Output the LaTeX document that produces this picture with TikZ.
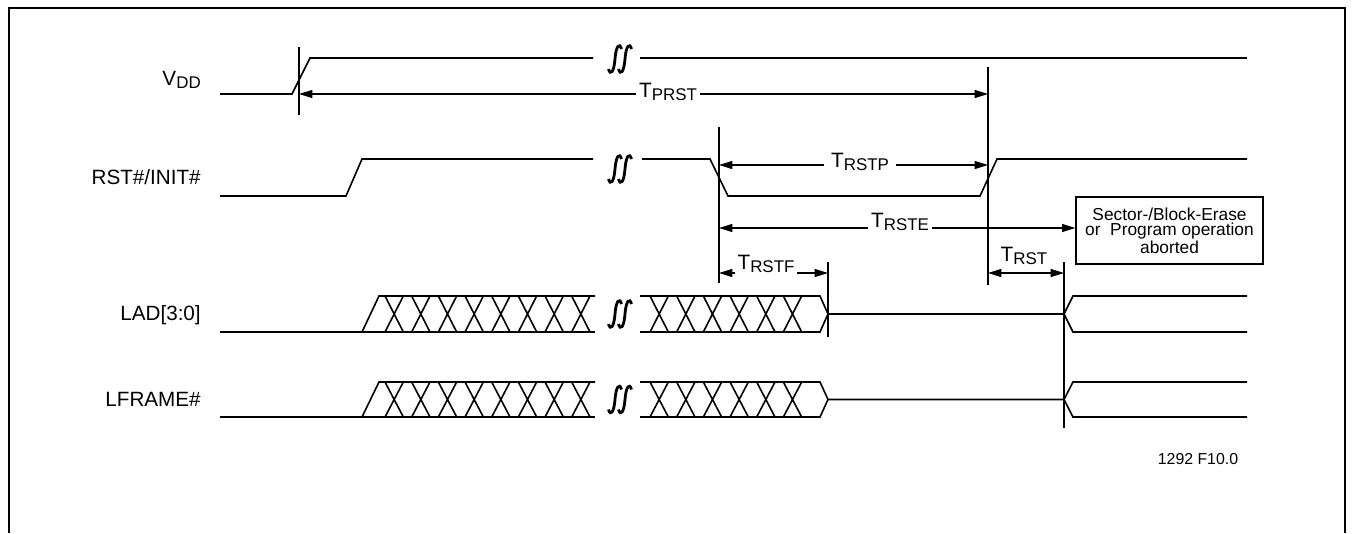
\documentclass[tikz,border=0pt]{standalone}
\usepackage{fontspec}
\setmainfont{Liberation Sans}
\usetikzlibrary{arrows.meta}
\newcommand{\Tsub}[2][T]{#1\raisebox{-2.5pt}{\fontsize{12.7}{14}\selectfont #2}}
\tikzset{
  sig/.style={line width=1.2pt},
  guide/.style={line width=0.9pt},
  dim/.style={line width=0.9pt, {Triangle[length=10pt,width=6pt]}-{Triangle[length=10pt,width=6pt]}},
  sname/.style={font=\fontsize{15.5}{18}\selectfont, anchor=east, inner sep=0pt},
  tlabel/.style={font=\fontsize{15.6}{18}\selectfont, anchor=base, inner xsep=2pt, inner ysep=1pt},
  brk/.pic={
    \foreach \c in {-5,5}
      \draw[line width=2.1pt] ({\c-6.5},10) .. controls ({\c-4.5},17) and ({\c-1},13) .. (\c,0)
        .. controls ({\c+1},-13) and ({\c+4.5},-17) .. ({\c+6.5},-10);
  }
}
\begin{document}
\begin{tikzpicture}[x=0.75pt, y=-0.75pt]
    \useasboundingbox (0,0) rectangle (1354,533);
    \draw[line width=1.5pt] (8.5,533) -- (8.5,8) -- (1345,8) -- (1345,533);
    % signal names
    \node[sname] (vdd) at (201,80) {\Tsub[V]{DD}};
    \node[sname] (rst) at (201,177) {RST\#/INIT\#};
    \node[sname] (lad) at (201,315) {LAD[3:0]};
    \node[sname] (lframe) at (201,399) {LFRAME\#};
    % VDD
    \draw[sig] (220,94) -- (292,94) -- (310,58) -- (593,58);
    \draw[sig] (640,58) -- (1247,58);
    \pic at (620,59) {brk};
    % RST#/INIT#
    \draw[sig] (220,196) -- (346,196) -- (362,159) -- (593,159);
    \draw[sig] (642,159) -- (710,159) -- (728,196) -- (980,196) -- (997,159) -- (1247,159);
    \pic at (620,169) {brk};
    % LAD[3:0] and LFRAME#
    \foreach \t/\b in {296/332, 382/417} {
      \pgfmathsetmacro{\m}{(\t+\b)/2}
      \draw[sig] (220,\b) -- (595,\b);
      \draw[sig] (362,\b) -- (379,\t) -- (595,\t);
      \foreach \k in {0,...,7}
        \draw[sig] ({385+26.67*\k},\t) -- ++(18.33,\b-\t) ({385+26.67*\k},\b) -- ++(18.33,\t-\b);
      \pic at (620,\m) {brk};
      \draw[sig] (640,\t) -- (820,\t) -- (828,\m) -- (820,\b) -- (640,\b);
      \foreach \k in {0,...,5}
        \draw[sig] ({650+26.67*\k},\t) -- ++(18.33,\b-\t) ({650+26.67*\k},\b) -- ++(18.33,\t-\b);
      \draw[sig] (828,\m) -- (1064,\m) -- (1073,\t) -- (1247,\t);
      \draw[sig] (1064,\m) -- (1073,\b) -- (1247,\b);
    }
    % guide lines
    \foreach \n/\x/\a/\e in {pon/299/47/115, prst/988/67/285, rlow/719/127/283, lfloat/828/262/337, lrst/1064/262/428} {
      \coordinate (\n) at (\x,\a);
      \draw[guide] (\n) -- (\x,\e);
    }
    % timing
    \coordinate (yprst) at (0,94);
    \coordinate (yrstp) at (0,165);
    \coordinate (yrste) at (0,228);
    \coordinate (yrstf) at (0,273);
    \node[draw, line width=1.2pt, minimum width=140pt, minimum height=50pt, inner sep=0pt, align=center,
      font=\fontsize{13}{11.6}\selectfont] (abort) at (1169.5,230.5)
      {Sector-/Block-Erase\\or~~Program operation\\aborted};
    \draw[dim] (pon |- yprst) -- (prst |- yprst);
    \draw[dim] (rlow |- yrstp) -- (prst |- yrstp);
    \draw[dim] (rlow |- yrste) -- (abort.west |- yrste);
    \draw[dim] (rlow |- yrstf) -- (lfloat |- yrstf);
    \draw[dim] (prst |- yrstf) -- (lrst |- yrstf);
    \node[tlabel, fill=white] (tprst) at (668,97) {\Tsub{PRST}};
    \node[tlabel, fill=white, inner xsep=5pt] (trstp) at (860,167) {\Tsub{RSTP}};
    \node[tlabel, fill=white] (trste) at (900,227) {\Tsub{RSTE}};
    \node[tlabel, fill=white] (trstf) at (766,269) {\Tsub{RSTF}};
    \node[tlabel] (trst) at (1024,261) {\Tsub{RST}};
    \node[font=\fontsize{11.9}{14}\selectfont] (fig) at (1198,459) {1292 F10.0};
\end{tikzpicture}
\end{document}
